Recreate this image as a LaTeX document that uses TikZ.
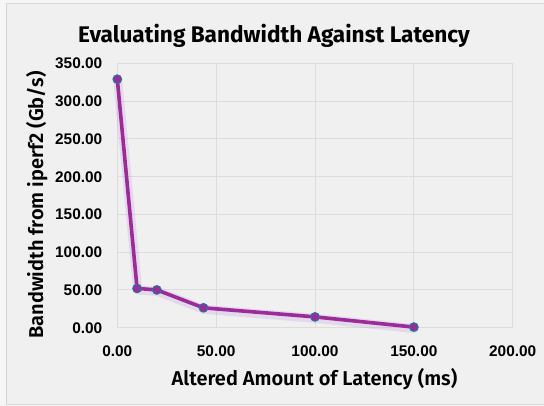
\documentclass[tikz,border=0pt]{standalone}
\usepackage{fontspec}
\setmainfont{Liberation Sans}
\newfontfamily\titlefont{Fira Sans}[UprightFont=* SemiBold]
\newfontfamily\headfont{Fira Sans}[UprightFont=* Bold]
\definecolor{outc}{HTML}{F6F6F6}
\definecolor{bgc}{HTML}{F0F0F0}
\definecolor{framec}{HTML}{D4D4D4}
\definecolor{gridc}{HTML}{DCDCDC}
\definecolor{linec}{HTML}{9C2A98}
\definecolor{glowc}{HTML}{B070D8}
\definecolor{markc}{HTML}{2F6E9E}
\tikzset{
  gridline/.style={draw=gridc, line width=0.9pt},
  dataline/.style={draw=linec, line width=3.6pt, line join=round, line cap=round},
  glowline/.style={draw=glowc, line width=9pt, line join=round, line cap=round, opacity=0.18},
  marker/.style={circle, fill=linec, draw=markc, line width=1.2pt, inner sep=0pt, minimum size=8.5pt},
  ticklab/.style={font=\bfseries\fontsize{15.4}{16}\selectfont, inner sep=0pt},
  axtitle/.style={font=\titlefont\fontsize{20}{22}\selectfont, inner sep=0pt},
}
\begin{document}
\begin{tikzpicture}[x=1pt,y=1pt]
\useasboundingbox (0,0) rectangle (544,406);
\fill[outc] (0,0) rectangle (544,406);
\fill[bgc] (6,1) rectangle (545,402);
\draw[framec, line width=1pt] (6,1) rectangle (545,402);
% title
\node[inner sep=0pt, font=\headfont\fontsize{22.6}{25}\selectfont, anchor=base] (title) at (274,363.7) {Evaluating Bandwidth Against Latency};
% axis titles
\node[axtitle, anchor=base] (xtitle) at (314.5,20.3) {Altered Amount of Latency (ms)};
\node[axtitle, anchor=base, rotate=90] (ytitle) at (43,201) {Bandwidth from iperf2 (Gb/s)};
\begin{scope}[shift={(117.3,78.3)}, x=1.977pt, y=0.7554pt]
  \foreach \v in {0,50,...,350} {
    \draw[gridline] (0,\v) -- (200,\v);
  }
  \foreach \u in {0,50,...,200} {
    \draw[gridline] (\u,0) -- (\u,350);
  }
  \foreach \v/\t in {0/0.00,50/50.00,100/100.00,150/150.00,200/200.00,250/250.00,300/300.00,350/350.00} {
    \node[ticklab, anchor=base east] (yl\v) at ([yshift=-5.6pt]-7.5,\v) {\t};
  }
  \foreach \u/\t in {0/0.00,50/50.00,100/100.00,150/150.00,200/200.00} {
    \node[ticklab, anchor=base] (xl\u) at ([yshift=-29pt]\u,0) {\t};
  }
  \coordinate (p1) at (0,329);
  \coordinate (p2) at (10,52);
  \coordinate (p3) at (20,50);
  \coordinate (p4) at (43.6,26.3);
  \coordinate (p5) at (100,14.3);
  \coordinate (p6) at (150,0.8);
  \draw[glowline, transform canvas={xshift=0.5pt,yshift=-1.5pt}] (p1) -- (p2) -- (p3) -- (p4) -- (p5) -- (p6);
  \draw[dataline] (p1) -- (p2) -- (p3) -- (p4) -- (p5) -- (p6);
  \foreach \i in {1,...,6} {
    \node[marker] (m\i) at (p\i) {};
  }
\end{scope}
\end{tikzpicture}
\end{document}
